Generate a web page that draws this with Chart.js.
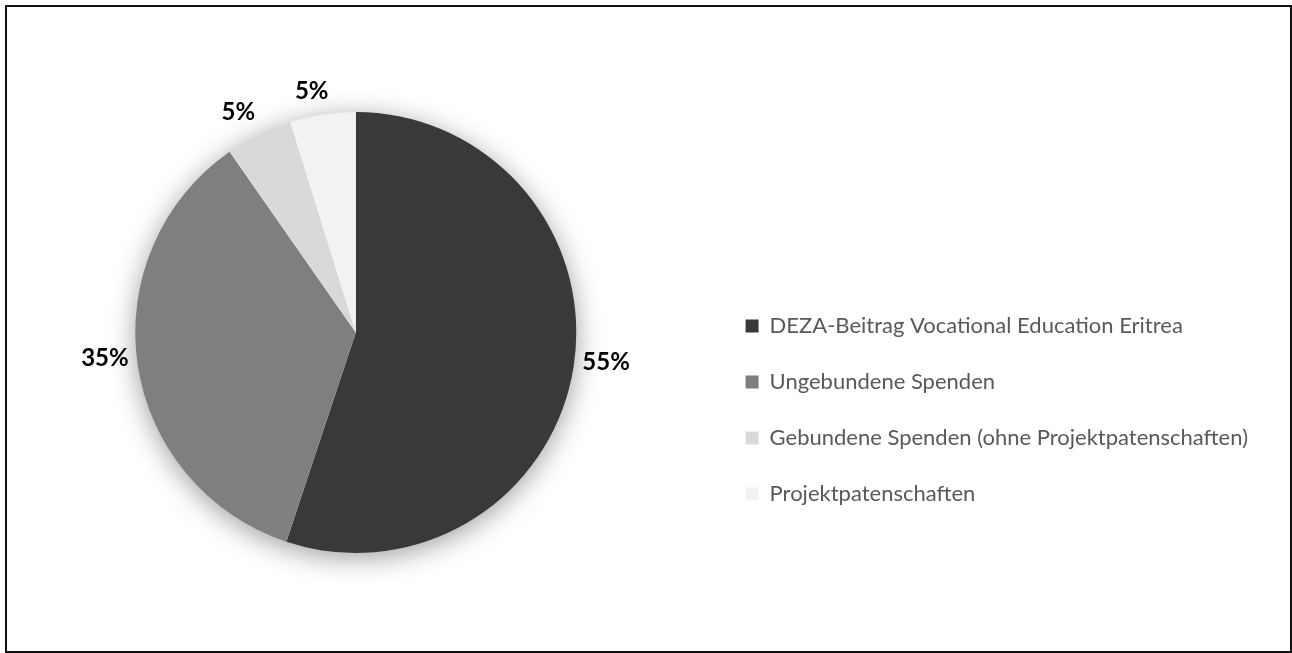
<!DOCTYPE html>
<html>
<head>
<meta charset="utf-8">
<script src="https://cdn.jsdelivr.net/npm/chart.js@4.4.1/dist/chart.umd.min.js"></script>
<style>
  html, body { margin:0; padding:0; background:#fff; }
  #wrap { position:relative; width:1292px; height:653px; }
  #c { position:absolute; left:0; top:0; }
  #frame { position:absolute; left:5px; top:5px; width:1287px; height:648px; box-sizing:border-box;
           border:2px solid #111; pointer-events:none; }
</style>
</head>
<body>
<div id="wrap">
  <canvas id="c" width="1292" height="653"></canvas>
  <div id="frame"></div>
</div>
<script>
const categories = [
  'DEZA-Beitrag Vocational Education Eritrea',
  'Ungebundene Spenden',
  'Gebundene Spenden (ohne Projektpatenschaften)',
  'Projektpatenschaften'
];
const shares = [55.1, 35.2, 4.9, 4.8];
const sliceColors = ['#3a3938', '#7f7f7f', '#d9d9d9', '#f2f2f2'];

const shadowPlugin = {
  id: 'pieShadow',
  beforeDatasetsDraw(chart) {
    const arc = chart.getDatasetMeta(0).data[0];
    if (!arc) return;
    const ctx = chart.ctx;
    ctx.save();
    ctx.shadowColor = 'rgba(0,0,0,0.40)';
    ctx.shadowBlur = 28;
    ctx.shadowOffsetY = 5;
    ctx.fillStyle = '#ffffff';
    ctx.beginPath();
    ctx.arc(arc.x, arc.y, arc.outerRadius - 1, 0, Math.PI * 2);
    ctx.fill();
    ctx.restore();
  }
};

const labelPlugin = {
  id: 'outsideLabels',
  afterDatasetsDraw(chart) {
    const ctx = chart.ctx;
    const meta = chart.getDatasetMeta(0);
    const vals = chart.data.datasets[0].data;
    const total = vals.reduce((a, b) => a + b, 0);
    ctx.save();
    ctx.font = 'bold 24px Lato, "DejaVu Sans", sans-serif';
    ctx.fillStyle = '#000000';
    ctx.textAlign = 'center';
    ctx.textBaseline = 'middle';
    meta.data.forEach((arc, i) => {
      const mid = (arc.startAngle + arc.endAngle) / 2;
      const c = Math.cos(mid), s = Math.sin(mid);
      const r = arc.outerRadius;
      const x = arc.x + c * (r + 33) + (s < -0.5 ? -6 : 0);
      const y = arc.y + s * (r + 25) - 10 * c * c + (s < -0.5 ? 2 : 0);
      ctx.fillText(Math.round(vals[i] / total * 100) + '%', x, y);
    });
    ctx.restore();
  }
};

new Chart(document.getElementById('c'), {
  type: 'pie',
  data: {
    labels: categories,
    datasets: [{
      data: shares,
      backgroundColor: sliceColors,
      borderWidth: 0,
      hoverOffset: 0
    }]
  },
  options: {
    responsive: false,
    animation: false,
    events: [],
    layout: { padding: { top: 112, bottom: 100, left: 0, right: 34 } },
    plugins: {
      tooltip: { enabled: false },
      legend: {
        position: 'right',
        align: 'center',
        title: { display: true, text: ' ', padding: { top: 143, bottom: 0 }, font: { size: 10 } },
        labels: {
          boxWidth: 13,
          boxHeight: 13,
          padding: 34,
          color: '#595959',
          font: { family: 'Lato', size: 22, lineHeight: 0.8 }
        }
      }
    }
  },
  plugins: [shadowPlugin, labelPlugin]
});
</script>
</body>
</html>
